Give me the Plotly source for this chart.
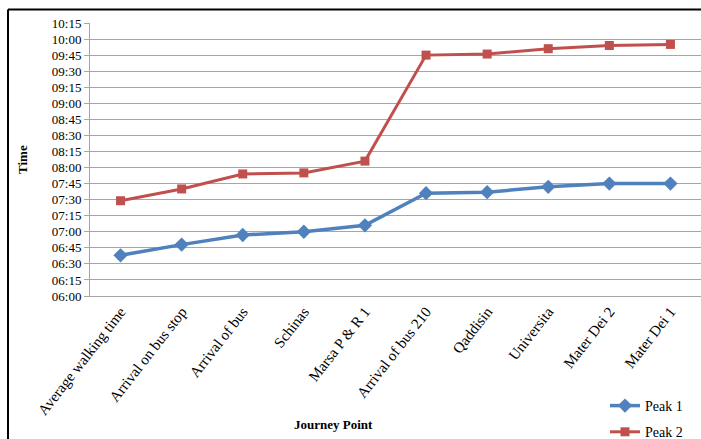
import plotly.graph_objects as go

categories = ["Average walking time", "Arrival on bus stop", "Arrival of bus", "Schinas",
              "Marsa P & R 1", "Arrival of bus 210", "Qaddisin", "Universita",
              "Mater Dei 2", "Mater Dei 1"]
peak1_times = ["06:38", "06:48", "06:57", "07:00", "07:06", "07:36", "07:37", "07:42", "07:45", "07:45"]
peak2_times = ["07:29", "07:40", "07:54", "07:55", "08:06", "09:45", "09:46", "09:51", "09:54", "09:55"]
y_range = ["06:00", "10:15"]

DAY = "2000-01-01 "
def d(t):
    return DAY + t + ":00"

SERIF = "Liberation Serif, Times New Roman, serif"
GRID = "#a6a6a6"

fig = go.Figure()
fig.add_trace(go.Scatter(
    x=categories, y=[d(t) for t in peak1_times], name="Peak 1", mode="lines+markers",
    line=dict(color="#4f81bd", width=3.5),
    marker=dict(symbol="diamond", size=11, color="#4f81bd"),
    legendgroup="a"))
fig.add_trace(go.Scatter(
    x=categories, y=[d(t) for t in peak2_times], name="Peak 2", mode="lines+markers",
    line=dict(color="#c0504d", width=3),
    marker=dict(symbol="square", size=9, color="#c0504d"),
    legendgroup="b"))

L, R, T, B = 90, 0, 23, 143
W, H = 701, 439
pw, ph = W - L - R, H - T - B

def px_x(x):
    return (x - L) / pw

def px_y(y):
    return 1 - (y - T) / ph

fig.update_layout(
    width=W, height=H,
    margin=dict(l=L, r=R, t=T, b=B, pad=0, autoexpand=False),
    paper_bgcolor="white", plot_bgcolor="white",
    font=dict(family=SERIF, size=13, color="#000"),
    showlegend=True,
    legend=dict(x=px_x(605), y=px_y(390), xanchor="left", yanchor="top",
                font=dict(family=SERIF, size=14), tracegroupgap=5,
                traceorder="grouped", bgcolor="rgba(0,0,0,0)"),
    xaxis=dict(type="category", range=[-0.5, 9.5], tickangle=-52, automargin=False,
               showgrid=False, showline=True, linecolor=GRID, linewidth=1,
               ticks="", tickfont=dict(family=SERIF, size=15), fixedrange=True),
    yaxis=dict(type="date", range=[d(y_range[0]), d(y_range[1])], automargin=False,
               dtick=900000, tick0=d("06:00"), tickformat="%H:%M",
               showgrid=True, gridcolor=GRID, gridwidth=1.3,
               showline=True, linecolor=GRID, linewidth=1,
               ticks="outside", ticklen=5, tickcolor=GRID,
               tickfont=dict(family=SERIF, size=13), fixedrange=True),
    annotations=[
        dict(text="<b>Time</b>", x=px_x(22), y=px_y(160), xref="paper", yref="paper",
             xanchor="center", yanchor="middle",
             showarrow=False, textangle=-90, font=dict(family=SERIF, size=13)),
        dict(text="<b>Journey Point</b>", x=px_x(333), y=px_y(424), xref="paper", yref="paper",
             xanchor="center", yanchor="middle",
             showarrow=False, font=dict(family=SERIF, size=13)),
    ],
    shapes=[
        dict(type="line", xref="paper", yref="paper", x0=px_x(8), x1=px_x(8),
             y0=px_y(9.5), y1=px_y(460), line=dict(color="black", width=2)),
        dict(type="line", xref="paper", yref="paper", x0=px_x(8), x1=px_x(720),
             y0=px_y(9.5), y1=px_y(9.5), line=dict(color="black", width=2)),
    ],
)

fig.write_html("out.html")
